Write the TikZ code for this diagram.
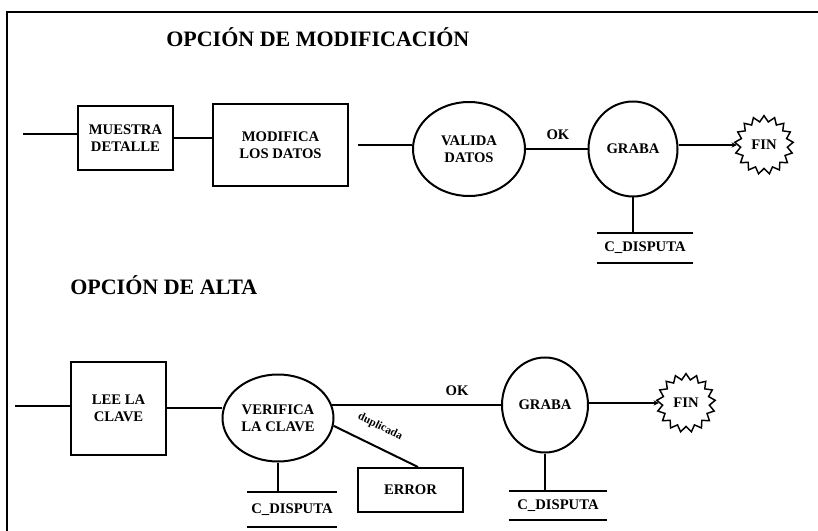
\documentclass[tikz,border=0pt]{standalone}
\usepackage{fontspec}
\setmainfont{Liberation Serif}
\usetikzlibrary{shapes.geometric,arrows.meta}
\begin{document}
\begin{tikzpicture}[x=0.75pt,y=-0.75pt,
  every node/.style={font=\bfseries\fontsize{11}{12.75}\selectfont, inner sep=0pt, align=center},
  conn/.style={line width=1.5pt},
  procbox/.style={draw, line width=1.5pt, rectangle},
  procell/.style={draw, line width=1.5pt, ellipse},
  finstar/.style={draw, line width=1.1pt, star, star points=17, star point ratio=1.25, minimum size=44pt},
  titletext/.style={font=\bfseries\fontsize{16.5}{19}\selectfont, anchor=base west},
  fintip/.style={-{Stealth[length=4pt,width=4pt]}}
]
\useasboundingbox (0,0) rectangle (818,531);
\draw[line width=1.5pt] (7,531) -- (7,12) -- (818,12);

\node[titletext] (t1) at (166,47) {OPCIÓN DE MODIFICACIÓN};
\node[titletext] (t2) at (70,295) {OPCIÓN DE ALTA};

% top row
\node[procbox, minimum width=71.25pt, minimum height=48pt] (m1) at (125.5,138) {MUESTRA\\DETALLE};
\node[procbox, minimum width=101.25pt, minimum height=61.5pt] (m2) at (280.5,145) {MODIFICA\\LOS DATOS};
\node[procell, minimum width=84pt, minimum height=70.5pt] (v1) at (469,149) {VALIDA\\DATOS};
\node[procell, minimum width=66.75pt, minimum height=71.25pt] (g1) at (633,149) {GRABA};
\node[finstar] (f1) at (764,145) {FIN};
\node[minimum width=72pt, minimum height=21.75pt] (cd1) at (645,248) {C\_DISPUTA};

\coordinate (s1) at (23,134);
\draw[conn] (s1) -- (s1 -| m1.west);
\draw[conn] (m1.east) -- (m1.east -| m2.west);
\draw[conn, shorten <=6.75pt] (m2.east) -- (m2.east -| v1.west);
\draw[conn] (v1.east) -- node[pos=0.52, above=6pt]{OK} (g1.west);
\draw[conn, fintip] (g1.east |- f1.west) -- (f1.west);
\draw[conn] (g1.south) -- (g1.south |- cd1.north);
\draw[conn] (cd1.north west) -- (cd1.north east);
\draw[conn] (cd1.south west) -- (cd1.south east);

% bottom row
\node[procbox, minimum width=71.25pt, minimum height=69.75pt] (lee) at (118.5,408) {LEE LA\\CLAVE};
\node[procell, minimum width=83.25pt, minimum height=65.25pt] (ver) at (278,418) {VERIFICA\\LA CLAVE};
\node[procbox, minimum width=78.75pt, minimum height=33pt] (err) at (410.5,490) {ERROR};
\node[procell, minimum width=64.5pt, minimum height=71.25pt] (g2) at (545,405) {GRABA};
\node[finstar] (f2) at (686,403) {FIN};
\node[minimum width=67.5pt, minimum height=26.25pt] (cd2) at (292,509.5) {C\_DISPUTA};
\node[minimum width=73.5pt, minimum height=21.75pt] (cd3) at (558,505.5) {C\_DISPUTA};

\coordinate (s2) at (15,406);
\draw[conn] (s2) -- (s2 -| lee.west);
\draw[conn] (lee.east) -- (lee.east -| ver.west);
\draw[conn] (ver.14) -- node[pos=0.74, above=6pt]{OK} (ver.14 -| g2.west);
\draw[conn] (ver.-8) -- node[sloped, above=10pt, pos=0.45, font=\bfseries\fontsize{8.5}{10}\selectfont]{duplicada} (err.72);
\draw[conn] (ver.south) -- (ver.south |- cd2.north);
\draw[conn] (cd2.north west) -- (cd2.north east);
\draw[conn] (cd2.south west) -- (cd2.south east);
\draw[conn, fintip] (g2.east |- f2.west) -- (f2.west);
\draw[conn] (g2.south) -- (g2.south |- cd3.north);
\draw[conn] (cd3.north west) -- (cd3.north east);
\draw[conn] (cd3.south west) -- (cd3.south east);
\end{tikzpicture}
\end{document}
